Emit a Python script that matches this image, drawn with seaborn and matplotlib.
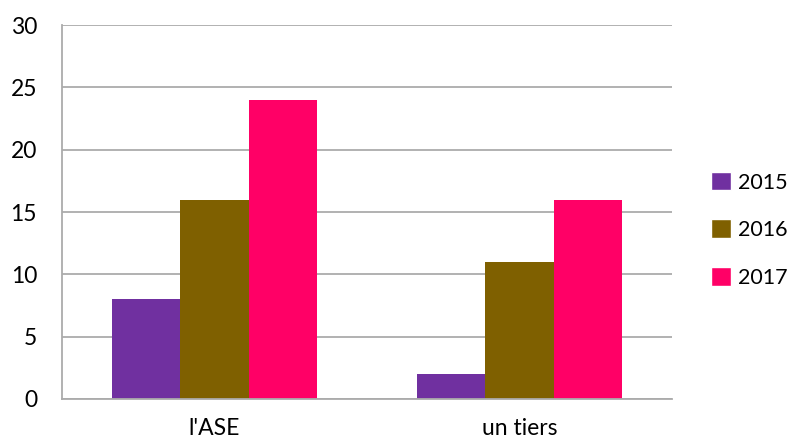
import pandas as pd
import matplotlib.pyplot as plt
import seaborn as sns
from matplotlib.patches import Patch

# data
categories = ["l'ASE", "un tiers"]
years = ["2015", "2016", "2017"]
values_2015 = [8, 2]
values_2016 = [16, 11]
values_2017 = [24, 16]
colors = ["#7030A0", "#7F6000", "#FF0066"]

df = pd.DataFrame({
    "cat": categories * 3,
    "year": [y for y in years for _ in categories],
    "val": values_2015 + values_2016 + values_2017,
})

sns.set_style("white")
plt.rcParams["font.family"] = ["Lato", "DejaVu Sans"]
plt.rcParams["text.color"] = "black"
plt.rcParams["xtick.color"] = "black"
plt.rcParams["ytick.color"] = "black"

fig = plt.figure(figsize=(7.9, 4.42), dpi=100)
ax = fig.add_axes([0.0785, 0.0973, 0.7721, 0.8461])

sns.barplot(data=df, x="cat", y="val", hue="year", palette=colors,
            width=0.67, linewidth=0, saturation=1, ax=ax, legend=False)

ax.set_xlim(-0.5, 1.5)
ax.set_ylim(0, 30)
ax.set_yticks(range(0, 31, 5))
ax.yaxis.grid(True, color="#ABABAB", linewidth=1.3)
ax.set_axisbelow(True)
for s in ["top", "right"]:
    ax.spines[s].set_visible(False)
for s in ["left", "bottom"]:
    ax.spines[s].set_color("#ABABAB")
    ax.spines[s].set_linewidth(1.3)

ax.tick_params(axis="y", length=10, color="#ABABAB", labelcolor="black", width=1.3, labelsize=16.5, pad=8)
ax.tick_params(axis="x", which="major", length=0, labelcolor="black", labelsize=16.5, pad=14)
ax.set_xticks([-0.5, 0.5, 1.5], minor=True)
ax.tick_params(axis="x", which="minor", length=6, color="#ABABAB", width=1.3)
ax.set_xlabel("")
ax.set_ylabel("")

handles = [Patch(facecolor=c, label=y) for c, y in zip(colors, years)]
fig.legend(handles=handles, loc="center left", bbox_to_anchor=(0.9, 0.48),
           frameon=False, fontsize=15.5, handlelength=0.95, handleheight=0.95,
           labelspacing=1.25, handletextpad=0.3, borderpad=0, borderaxespad=0)

fig.savefig("out.png", dpi=100)
